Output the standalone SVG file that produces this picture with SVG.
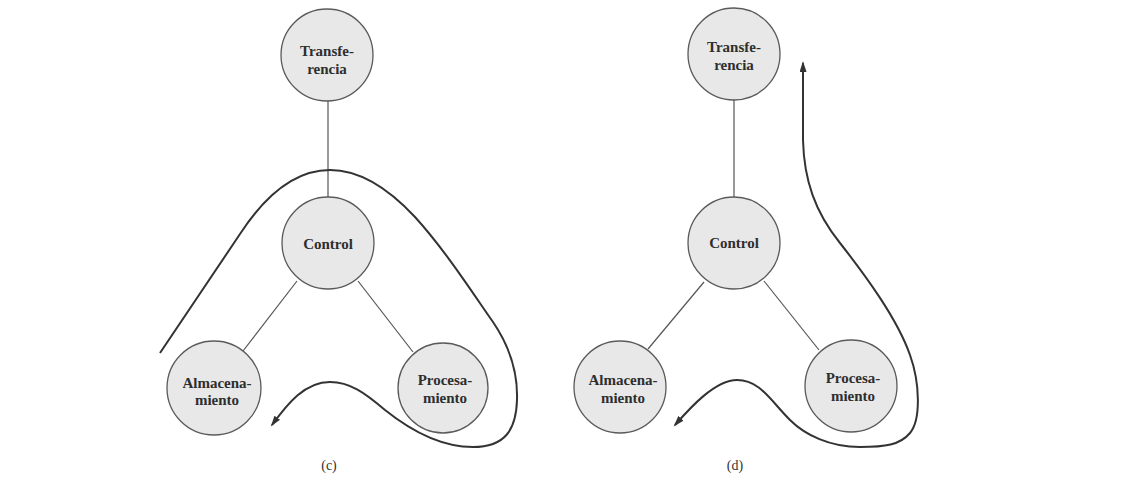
<svg xmlns="http://www.w3.org/2000/svg" width="1139" height="490" viewBox="0 0 1139 490">
<style>
.node circle{fill:#e8e8e8;stroke:#5a5a5a;stroke-width:1.3}
.node text{font-family:"Liberation Serif","Times New Roman",serif;font-weight:bold;font-size:15px;fill:#2e2e2e;text-anchor:middle}
.link{stroke:#555;stroke-width:1.2;fill:none}
.flow{stroke:#333;stroke-width:2;fill:none}
.cap{font-family:"Liberation Serif","Times New Roman",serif;font-size:14px;fill:#333;text-anchor:middle}
</style>
<defs>
<marker id="ah" markerUnits="userSpaceOnUse" markerWidth="12" markerHeight="8" refX="9" refY="3.5" orient="auto-start-reverse">
<path d="M0,0 L11,3.5 L0,7 Z" fill="#333"/>
</marker>
</defs>
<rect width="1139" height="490" fill="#fff"/>
<g id="connectors">
<line class="link" x1="328" y1="101" x2="328" y2="197"/>
<line class="link" x1="297" y1="281" x2="243" y2="351"/>
<line class="link" x1="358" y1="281" x2="413" y2="352"/>
<line class="link" x1="734" y1="100" x2="734" y2="197"/>
<line class="link" x1="704" y1="282" x2="648" y2="349"/>
<line class="link" x1="764" y1="281" x2="819" y2="350"/>
<path class="flow" marker-end="url(#ah)" d="M160,353 L240,234 C270,188 300,170 330,170 C360,170 388,188 415,217 C445,250 472,292 493,322 C510,347 518,372 517,400 C516,430 505,447 473,447 C440,447 410,430 385,410 C365,393 350,382 330,382 C305,382 288,403 272,425"/>
<path class="flow" marker-start="url(#ah)" marker-end="url(#ah)" d="M803,63 L803,140 C804,180 815,212 840,243 C865,275 897,318 910,355 C920,383 921,420 910,433 C900,445 885,447 860,447 C830,447 805,435 790,420 C770,400 760,380 737,380 C715,380 690,408 675,425"/>
</g>
<g id="c-transferencia" class="node"><circle cx="327" cy="55" r="46"/><text x="327" y="56">Transfe-</text><text x="327" y="74">rencia</text></g>
<g id="c-control" class="node"><circle cx="328" cy="243" r="46"/><text x="328" y="249">Control</text></g>
<g id="c-almacenamiento" class="node"><circle cx="214" cy="388" r="47"/><text x="217" y="388">Almacena-</text><text x="217" y="405">miento</text></g>
<g id="c-procesamiento" class="node"><circle cx="443" cy="388" r="45"/><text x="445" y="385">Procesa-</text><text x="445" y="403">miento</text></g>
<g id="d-transferencia" class="node"><circle cx="734" cy="54" r="46"/><text x="734" y="52">Transfe-</text><text x="734" y="70">rencia</text></g>
<g id="d-control" class="node"><circle cx="734" cy="243" r="46"/><text x="734" y="248">Control</text></g>
<g id="d-almacenamiento" class="node"><circle cx="620" cy="387" r="46"/><text x="623" y="385">Almacena-</text><text x="623" y="403">miento</text></g>
<g id="d-procesamiento" class="node"><circle cx="851" cy="386" r="46"/><text x="853" y="383">Procesa-</text><text x="853" y="401">miento</text></g>
<text class="cap" x="329" y="470">(c)</text>
<text class="cap" x="735" y="470">(d)</text>
</svg>
